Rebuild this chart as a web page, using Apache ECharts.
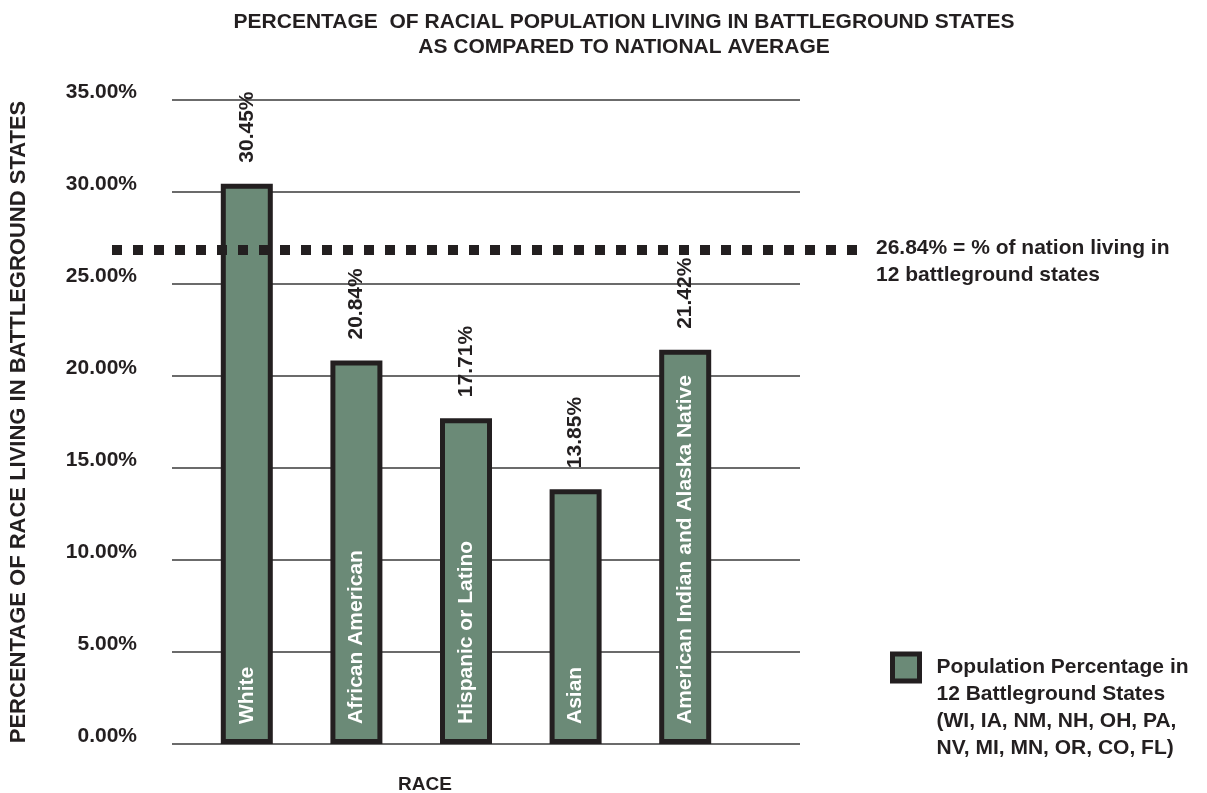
<!DOCTYPE html>
<html>
<head>
<meta charset="utf-8">
<script src="https://cdn.jsdelivr.net/npm/echarts@6/dist/echarts.min.js"></script>
<style>
  html, body { margin: 0; padding: 0; background: #fff; }
  #chart { width: 1207px; height: 793px; }
</style>
</head>
<body>
<div id="chart"></div>
<script>
// --- data ---
const categories = ['White', 'African American', 'Hispanic or Latino', 'Asian', 'American Indian and Alaska Native'];
const shares = [30.45, 20.84, 17.71, 13.85, 21.42];
const nationalAvg = 26.84;
const yTicks = { min: 0, max: 35, step: 5 };
const seriesName = 'Population Percentage in\n12 Battleground States\n(WI, IA, NM, NH, OH, PA,\nNV, MI, MN, OR, CO, FL)';

const INK = '#231f20';
const GREEN = '#6b8a77';
const FONT = '"Liberation Sans", Arial, sans-serif';

const chart = echarts.init(document.getElementById('chart'));

// three grids sharing the same vertical scale:
// 0 = gridlines + tick labels, 1 = bars, 2 = the long dotted average line
const TOP = 100, H = 644;

chart.setOption({
    animation: false,
    textStyle: { fontFamily: FONT },
    title: [
        {
            text: 'PERCENTAGE  OF RACIAL POPULATION LIVING IN BATTLEGROUND STATES\nAS COMPARED TO NATIONAL AVERAGE',
            left: 619, top: 5, textAlign: 'center',
            textStyle: { fontSize: 21, fontWeight: 'bold', color: INK, lineHeight: 25, fontFamily: FONT }
        },
        {
            text: 'RACE',
            left: 420, top: 770, textAlign: 'center',
            textStyle: { fontSize: 19, fontWeight: 'bold', color: INK, fontFamily: FONT }
        }
    ],
    legend: {
        data: [seriesName],
        left: 885, top: 568,
        itemWidth: 27, itemHeight: 27,
        icon: 'rect',
        selectedMode: false,
        itemStyle: { color: GREEN, borderColor: INK, borderWidth: 5 },
        // blank lines in front keep the icon level with the first text line
        formatter: name => '\n\n\n' + name,
        textStyle: { fontSize: 21, fontWeight: 'bold', color: INK, lineHeight: 27, padding: [0, 0, 0, 12], fontFamily: FONT }
    },
    grid: [
        { left: 172, top: TOP, width: 628, height: H, outerBoundsMode: 'none' },
        { left: 192, top: TOP, width: 548, height: H, outerBoundsMode: 'none' },
        { left: 112, top: TOP, width: 746, height: H, outerBoundsMode: 'none' }
    ],
    xAxis: [
        { gridIndex: 0, type: 'value', show: false },
        { gridIndex: 1, type: 'category', data: categories, show: false },
        { gridIndex: 2, type: 'value', show: false, min: 0, max: 1 }
    ],
    yAxis: [
        {
            gridIndex: 0, type: 'value', min: yTicks.min, max: yTicks.max, interval: yTicks.step,
            axisLine: { show: false }, axisTick: { show: false },
            splitLine: { lineStyle: { color: '#3a3a3a', width: 1.5 } },
            axisLabel: {
                formatter: v => v.toFixed(2) + '%',
                color: INK, fontSize: 21, fontWeight: 'bold', margin: 35,
                verticalAlign: 'bottom', lineHeight: 16
            },
            name: 'PERCENTAGE OF RACE LIVING IN BATTLEGROUND STATES',
            nameLocation: 'middle', nameGap: 142, nameRotate: 90,
            nameTextStyle: { fontSize: 22, fontWeight: 'bold', color: INK }
        },
        { gridIndex: 1, type: 'value', min: yTicks.min, max: yTicks.max, show: false },
        { gridIndex: 2, type: 'value', min: yTicks.min, max: yTicks.max, show: false }
    ],
    series: [
        {
            name: seriesName,
            type: 'bar', xAxisIndex: 1, yAxisIndex: 1,
            data: shares, barWidth: 52,
            itemStyle: { color: GREEN, borderColor: INK, borderWidth: 5 },
            label: {
                show: true, position: 'top', rotate: 90, distance: 21,
                align: 'left', verticalAlign: 'middle',
                formatter: p => p.value.toFixed(2) + '%',
                color: INK, fontSize: 21, fontWeight: 'bold'
            },
            z: 3
        },
        {
            // category names written inside the bars
            type: 'bar', xAxisIndex: 1, yAxisIndex: 1,
            data: shares, barWidth: 52, barGap: '-100%',
            itemStyle: { color: 'rgba(0,0,0,0)' },
            label: {
                show: true, position: 'insideBottom', rotate: 90, distance: 20,
                align: 'left', verticalAlign: 'middle',
                formatter: p => categories[p.dataIndex],
                color: '#fff', fontSize: 21, fontWeight: 'bold'
            },
            silent: true, z: 4
        },
        {
            type: 'line', xAxisIndex: 2, yAxisIndex: 2, data: [],
            markLine: {
                silent: true, symbol: 'none',
                lineStyle: { color: INK, width: 10, type: [10, 11], cap: 'butt' },
                label: {
                    show: true, position: 'end', distance: 18,
                    formatter: nationalAvg.toFixed(2) + '% = % of nation living in\n12 battleground states',
                    color: INK, fontSize: 21, fontWeight: 'bold', lineHeight: 27,
                    align: 'left', verticalAlign: 'top', offset: [0, -15]
                },
                data: [{ yAxis: nationalAvg }]
            },
            z: 5
        }
    ]
});
</script>
</body>
</html>
